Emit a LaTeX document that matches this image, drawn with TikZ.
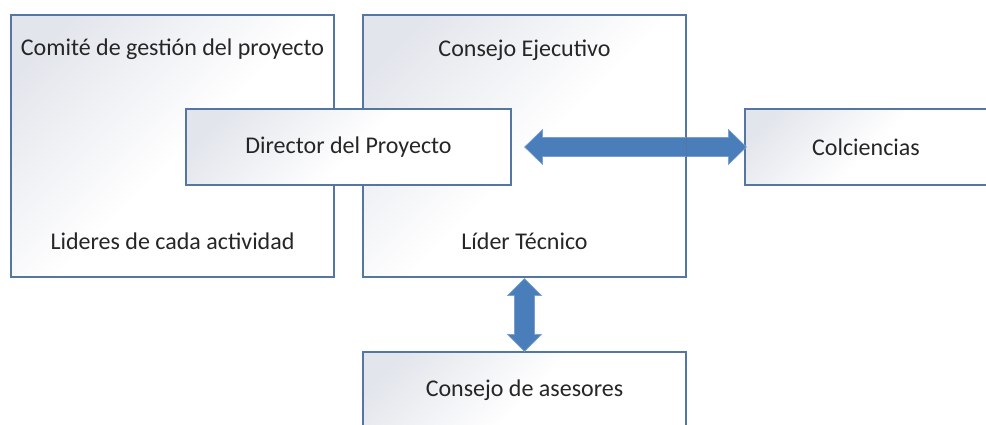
\documentclass[tikz,border=0pt]{standalone}
\usepackage{fontspec}
\setmainfont{Carlito}
\usetikzlibrary{calc}
\definecolor{bordc}{RGB}{84,118,162}
\definecolor{arrowc}{RGB}{74,126,187}
\definecolor{shadec}{RGB}{226,229,235}
\definecolor{txtc}{RGB}{38,38,38}
\pgfdeclarehorizontalshading{boxsh}{100bp}{color(0bp)=(shadec); color(22bp)=(shadec); color(52bp)=(white); color(100bp)=(white)}
\begin{document}
\begin{tikzpicture}[x=1pt,y=-1pt,
  box/.style={draw=bordc, line width=1.2pt, shading=boxsh, shading angle=-45,
    inner sep=0pt, font=\fontsize{24}{28}\selectfont, text=txtc},
  lbl/.style={inner sep=0pt, font=\fontsize{24}{28}\selectfont, text=txtc},
  bigarrow/.style={fill=arrowc, draw=arrowc!75!white, line width=0.6pt, line join=miter}]
\useasboundingbox (0,0) rectangle (986,424);
\clip (0,0) rectangle (986,424);
% large boxes
\node[box, minimum width=323, minimum height=262] (cg) at (172.5,146) {};
\node[lbl] (cgt) at ($(cg.north)+(0,35)$) {Comité de gestión del proyecto};
\node[lbl] (cgb) at ($(cg.south)+(0,-36)$) {Lideres de cada actividad};
\node[box, minimum width=323, minimum height=262] (ce) at (524.5,146) {};
\node[lbl] (cet) at ($(ce.north)+(0,36)$) {Consejo Ejecutivo};
\node[lbl] (ceb) at ($(ce.south)+(0,-36)$) {Líder Técnico};
% smaller boxes
\node[box, minimum width=325, minimum height=76] (dir) at (348.5,147) {Director del Proyecto};
\node[box, minimum width=242, minimum height=76] (col) at (866,147) {Colciencias};
\node[box, minimum width=323, minimum height=76] (ase) at (524.5,390) {Consejo de asesores};
% horizontal double arrow
\coordinate (ha) at ($(dir.east)+(13,0)$);
\coordinate (hb) at ($(col.west)+(2,0)$);
\path[bigarrow] (ha) -- ($(ha)+(18,-17.5)$) -- ($(ha)+(18,-9.5)$) -- ($(hb)+(-18,-9.5)$)
  -- ($(hb)+(-18,-17.5)$) -- (hb) -- ($(hb)+(-18,17.5)$) -- ($(hb)+(-18,9.5)$)
  -- ($(ha)+(18,9.5)$) -- ($(ha)+(18,17.5)$) -- cycle;
\draw[bordc, line width=1.2pt] (ce.north east) -- (ce.south east);
% vertical double arrow
\coordinate (va) at ($(ce.south)+(0,1)$);
\coordinate (vb) at (ase.north);
\path[bigarrow] (va) -- ($(va)+(17,17)$) -- ($(va)+(10,17)$) -- ($(vb)+(10,-17)$)
  -- ($(vb)+(17,-17)$) -- (vb) -- ($(vb)+(-17,-17)$) -- ($(vb)+(-10,-17)$)
  -- ($(va)+(-10,17)$) -- ($(va)+(-17,17)$) -- cycle;
\end{tikzpicture}
\end{document}
